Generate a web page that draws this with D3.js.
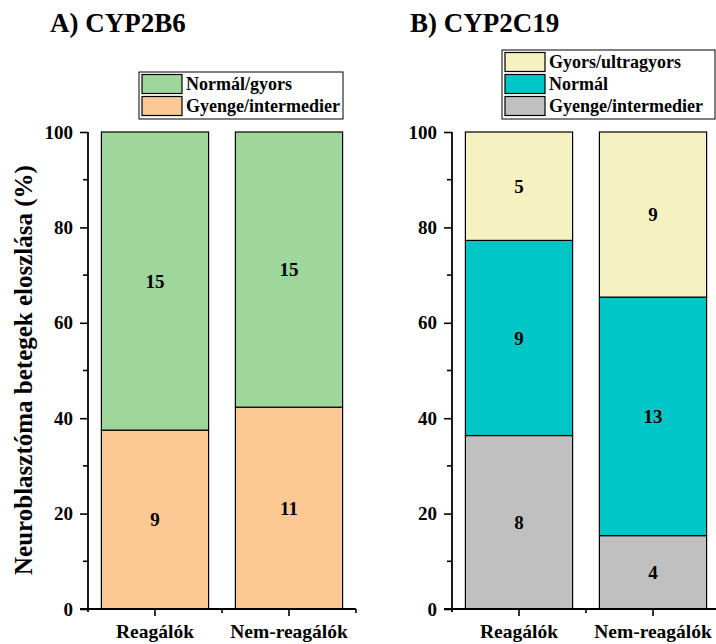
<!DOCTYPE html>
<html>
<head>
<meta charset='utf-8' />
<title>CYP2B6 / CYP2C19</title>
<style>
  body { margin: 0; background: #fff; }
</style>
</head>
<body>
<svg id="chart" width="716" height="644"></svg>
<script src="https://d3js.org/d3.v7.min.js"></script>
<script>
// data
const categories = ["Reagálók", "Nem-reagálók"];
const yTicks = [0, 20, 40, 60, 80, 100];

const cyp2b6Groups = ["Gyenge/intermedier", "Normál/gyors"];
const cyp2b6Gyenge = [9, 11];
const cyp2b6Normal = [15, 15];

const cyp2c19Groups = ["Gyenge/intermedier", "Normál", "Gyors/ultragyors"];
const cyp2c19Gyenge = [8, 4];
const cyp2c19Normal = [9, 13];
const cyp2c19Gyors = [5, 9];

const FONT = '"Liberation Serif", "Times New Roman", Times, serif';
const svg = d3.select("#chart");
const y = d3.scaleLinear().domain([0, 100]).range([609, 132]);

function panel(opts) {
  const g = svg.append("g");
  const x = d3.scaleBand().domain(categories)
    .range([opts.left, opts.left + 268])
    .paddingInner(0.2).paddingOuter(0.1);

  // stacked percentages from the counts
  const rows = categories.map((c, i) => {
    const r = { cat: c };
    opts.series.forEach(s => r[s.name] = s.values[i]);
    return r;
  });
  const stack = d3.stack().keys(opts.series.map(s => s.name))
    .offset(d3.stackOffsetExpand)(rows);

  stack.forEach((layer, li) => {
    const s = opts.series[li];
    g.selectAll(null).data(layer).enter().append("rect")
      .attr("x", d => x(d.data.cat))
      .attr("y", d => y(d[1] * 100))
      .attr("width", x.bandwidth())
      .attr("height", d => y(d[0] * 100) - y(d[1] * 100))
      .attr("fill", s.color)
      .attr("stroke", "#000")
      .attr("stroke-width", 1.2);
    g.selectAll(null).data(layer).enter().append("text")
      .attr("x", d => x(d.data.cat) + x.bandwidth() / 2)
      .attr("y", d => y((d[0] + d[1]) * 50))
      .attr("dy", "0.35em")
      .attr("text-anchor", "middle")
      .style("font-size", "19px")
      .text(d => d.data[s.name]);
  });

  // y axis
  const yAxis = d3.axisLeft(y).tickValues(yTicks).tickSize(8).tickPadding(7);
  const ya = g.append("g").attr("transform", `translate(${opts.left},0)`).call(yAxis);
  ya.select(".domain").attr("d", `M0,${y(100)}V${y(0) + 3}`);
  ya.selectAll(".tick line").attr("stroke-width", 1.6);
  ya.selectAll(".tick text").style("font-size", "19px");
  g.selectAll(null).data(d3.range(10, 100, 20)).enter().append("line")
    .attr("x1", opts.left - 5).attr("x2", opts.left)
    .attr("y1", d => y(d)).attr("y2", d => y(d))
    .attr("stroke", "#000").attr("stroke-width", 1.6);

  // x axis
  const xAxis = d3.axisBottom(x).tickSize(7);
  const xa = g.append("g").attr("transform", `translate(0,${y(0)})`).call(xAxis);
  xa.select(".domain").attr("d", `M${opts.left - 8},0H${opts.left + 268}`);
  xa.selectAll(".tick line").attr("stroke-width", 1.6);
  xa.selectAll(".tick text").attr("y", 29).attr("dy", 0).style("font-size", "19.5px");
  g.selectAll(null).data([x.step(), 2 * x.step()]).enter().append("line")
    .attr("x1", d => opts.left + d).attr("x2", d => opts.left + d)
    .attr("y1", y(0)).attr("y2", y(0) + 4)
    .attr("stroke", "#000").attr("stroke-width", 1.6);
  svg.selectAll(".domain").attr("stroke-width", 1.8);

  // title
  g.append("text").attr("x", opts.titleX).attr("y", 32)
    .style("font-size", "27px").text(opts.title);

  // legend (top entry first)
  const leg = opts.series.slice().reverse();
  const lg = g.append("g").attr("transform", `translate(${opts.legX},${opts.legY})`);
  lg.append("rect").attr("width", opts.legW).attr("height", leg.length * 22 + 3)
    .attr("fill", "#fff").attr("stroke", "#000").attr("stroke-width", 1);
  leg.forEach((s, i) => {
    lg.append("rect").attr("x", 3).attr("y", 2.5 + i * 22).attr("width", 40).attr("height", 19)
      .attr("fill", s.color).attr("stroke", "#000").attr("stroke-width", 1.2);
    lg.append("text").attr("x", 47).attr("y", 12 + i * 22).attr("dy", "0.35em")
      .style("font-size", "18px").text(s.name);
  });
}

panel({
  left: 88, title: "A) CYP2B6", titleX: 50,
  legX: 139, legY: 72, legW: 204,
  series: [
    { name: cyp2b6Groups[0], values: cyp2b6Gyenge, color: "#fcc894" },
    { name: cyp2b6Groups[1], values: cyp2b6Normal, color: "#9fd69c" }
  ]
});

panel({
  left: 452, title: "B) CYP2C19", titleX: 410,
  legX: 502, legY: 50, legW: 213,
  series: [
    { name: cyp2c19Groups[0], values: cyp2c19Gyenge, color: "#c0c0c0" },
    { name: cyp2c19Groups[1], values: cyp2c19Normal, color: "#00c7c7" },
    { name: cyp2c19Groups[2], values: cyp2c19Gyors, color: "#f6f1c0" }
  ]
});

// shared y axis title
svg.append("text")
  .attr("transform", "translate(32,370) rotate(-90)")
  .attr("text-anchor", "middle")
  .style("font-size", "25px")
  .text("Neuroblasztóma betegek eloszlása (%)");

svg.selectAll("text")
  .style("font-family", FONT)
  .style("font-weight", "bold")
  .attr("fill", "#000");
</script>
</body>
</html>
